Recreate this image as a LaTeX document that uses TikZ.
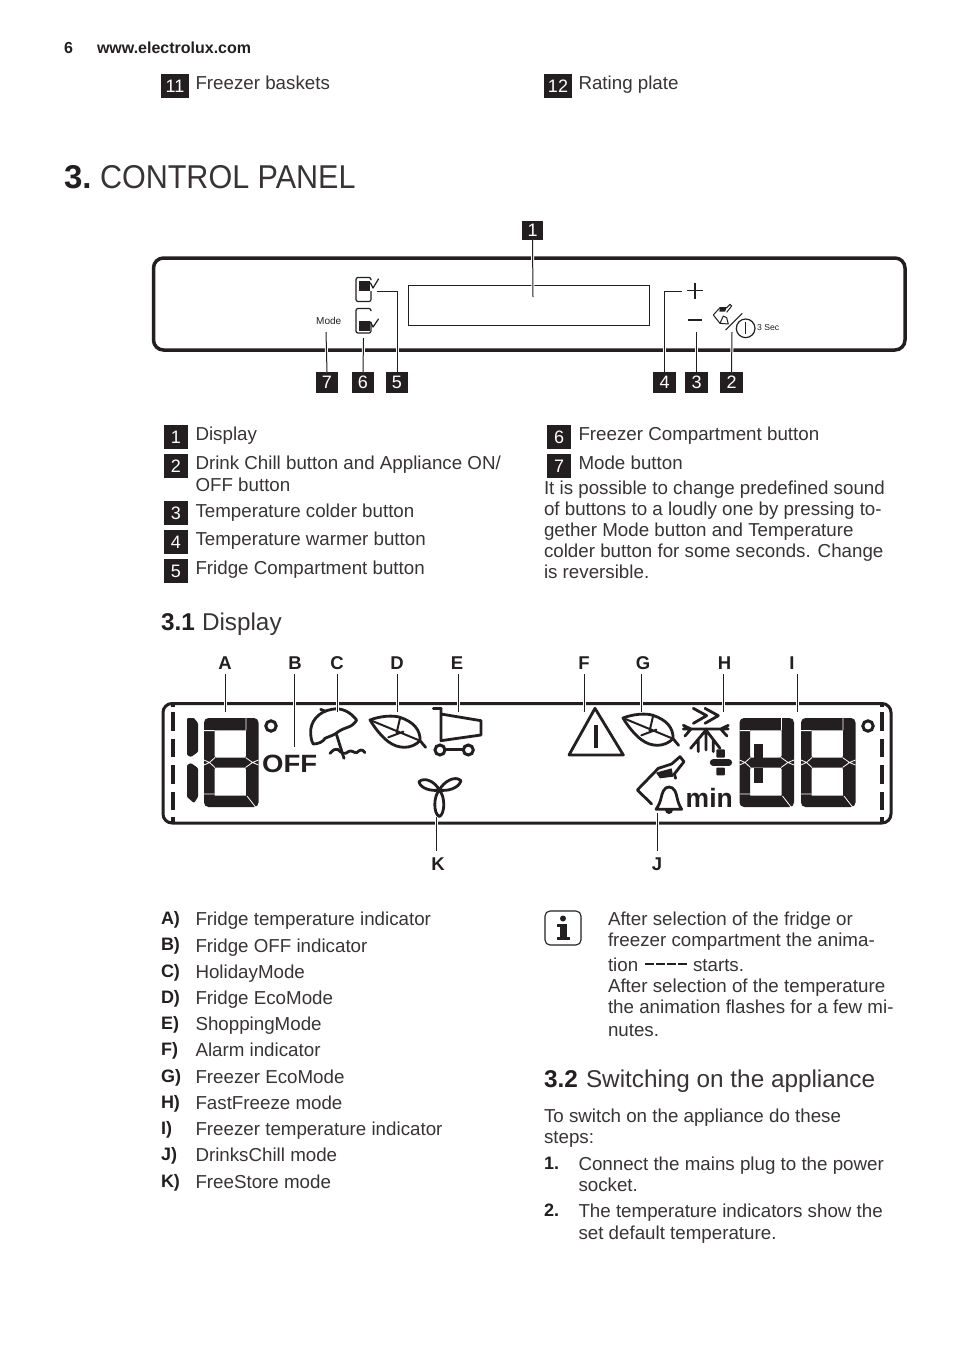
\documentclass[tikz,border=0pt]{standalone}
\usepackage{fontspec}
\setmainfont{Liberation Sans}
\definecolor{ink}{HTML}{231F20}
\definecolor{bodyink}{HTML}{383435}
\newcommand\bodysize{\fontsize{18.75}{21}\selectfont}
\tikzset{
  x=1pt,y=-1pt,
  txt/.style={anchor=base west,inner sep=0pt,outer sep=0pt,text=bodyink,font=\bodysize},
  boldtxt/.style={anchor=base west,inner sep=0pt,outer sep=0pt,text=ink,font=\fontsize{18}{21}\selectfont\bfseries},
  badge/.style={fill=ink,text=white,inner sep=0pt,outer sep=0pt,font=\fontsize{18}{18}\selectfont},
  letter/.style={anchor=base,inner sep=0pt,outer sep=0pt,text=ink,font=\fontsize{18.5}{18}\selectfont\bfseries},
  lead/.style={draw=ink,line width=1pt,preaction={draw=white,line width=3pt}},
  icon/.style={draw=ink,line width=2.8pt,line join=round,line cap=round},
  smallicon/.style={draw=ink,line width=1.2pt,line join=round,line cap=round},
  seam/.style={draw=white,line width=0.8pt}
}
\newcommand\tx[4]{\node[txt] (#1) at (#2,#3) {#4};}
\newcommand\tb[4]{\node[boldtxt] (#1) at (#2,#3) {#4};}
\newcommand\lcddigit[2]{%
\begin{scope}[shift={(#1,#2)}]
\fill[ink,even odd rule] [rounded corners=4.5pt] (0,0) rectangle (54.5,89) [sharp corners]
  (10.5,12.3)--(42,12.3)--(42,38)--(41,39.5)--(11.5,39.5)--(10.5,38)--cycle
  (10.5,51)--(11.5,49.5)--(41,49.5)--(42,51)--(42,77.5)--(10.5,77.5)--cycle;
\draw[seam] (0,12.6)--(10.5,12.6) (42,0)--(42,12.3) (11,39.5)--(5.5,44.5)--(11,49.5) (5.5,44.5)--(0,42) (5.5,44.5)--(0,47);
\draw[seam] (41.5,39.5)--(48.5,44.5)--(41.5,49.5) (48.5,44.5)--(54.5,42) (48.5,44.5)--(54.5,47);
\draw[seam] (0,76)--(10.5,76) (43,78)--(51.5,89);
\end{scope}}
\newcommand\leafat[2]{%
\begin{scope}[shift={(#1,#2)},scale=0.3333]
\draw[icon] (0,0) .. controls (30,-12) and (70,-15) .. (90,-8) .. controls (130,5) and (152,30) .. (150,62) .. controls (125,88) and (85,88) .. (55,65) .. controls (35,50) and (15,25) .. (0,0) -- cycle;
\draw[icon] (150,62)--(167,82);
\draw[draw=ink,line width=2pt,line cap=round] (0,0)--(145,60) (90,-5)--(80,38) (55,52)--(100,35);
\end{scope}}
\begin{document}
\begin{tikzpicture}
\useasboundingbox (0,0) rectangle (954,1352);
\fill[white] (0,0) rectangle (954,1352);
% header
\node[boldtxt,font=\fontsize{16}{16}\selectfont\bfseries] (pg) at (64,53) {6};
\node[boldtxt,font=\fontsize{16}{16}\selectfont\bfseries] (web) at (97,53) {www.electrolux.com};
\node[badge,minimum width=28pt,minimum height=24pt,anchor=north west] (b11) at (161,74) {11};
\tx{t11}{195.5}{89}{Freezer baskets}
\node[badge,minimum width=28pt,minimum height=24pt,anchor=north west] (b12) at (544,74) {12};
\tx{t12}{578.5}{89}{Rating plate}
\node[boldtxt,font=\fontsize{33}{36}\selectfont\bfseries] (h3) at (64,188) {3.};
\node[txt,font=\fontsize{33}{36}\selectfont] (h3t) at (100,188) {\scalebox{.925}[1]{CONTROL PANEL}};
% panel
\draw[draw=ink,line width=3.5pt,rounded corners=10pt] (153.5,258) rectangle (905,350);
\draw[draw=ink,line width=1pt] (408,285.5) rectangle (649.5,325);
\node[badge,minimum width=21pt,minimum height=19pt,anchor=north west] (p1) at (522,221) {1};
\node[badge,minimum width=22pt,minimum height=21pt,anchor=north west] (p7) at (316,372) {7};
\node[badge,minimum width=22pt,minimum height=21pt,anchor=north west] (p6) at (352,372) {6};
\node[badge,minimum width=22pt,minimum height=21pt,anchor=north west] (p5) at (386,372) {5};
\node[badge,minimum width=23pt,minimum height=21pt,anchor=north west] (p4) at (653,372) {4};
\node[badge,minimum width=23pt,minimum height=21pt,anchor=north west] (p3) at (685,372) {3};
\node[badge,minimum width=23pt,minimum height=21pt,anchor=north west] (p2) at (720,372) {2};
\coordinate (e1) at (533,297);
\coordinate (e7) at (326,332);
\coordinate (e6) at (363.5,338);
\coordinate (e5) at (377,291.5);
\coordinate (e4) at (682,291.5);
\coordinate (e3) at (696.5,332);
\coordinate (e2) at (732,332);
\draw[lead] (p1.south)--(e1);
\draw[lead] (p7.north)--(e7);
\draw[lead] (p6.north)--(e6);
\draw[lead] (p5.north)|-(e5);
\draw[lead] (p4.north)|-(e4);
\draw[lead] (p3.north)--(e3);
\draw[lead] (p2.north)--(e2);
% panel buttons
\draw[draw=ink,line width=1.2pt,rounded corners=2pt] (371,280)--(371,277.5)--(356,277.5)--(356,301.5)--(371,301.5)--(371,291);
\fill[ink] (358.5,280.5) rectangle (369.5,291);
\draw[smallicon] (370.5,283)--(373,288)--(378.5,279);
\draw[draw=ink,line width=1.2pt,rounded corners=2pt] (371,311)--(371,308.5)--(356,308.5)--(356,333)--(371,333)--(371,322);
\fill[ink] (358.5,320.5) rectangle (369.5,331);
\draw[smallicon] (370.5,322)--(373,327)--(378.5,319);
\node[anchor=base west,inner sep=0pt,text=ink,font=\fontsize{10}{10}\selectfont] (modelabel) at (316,324.5) {Mode};
\draw[draw=ink,line width=1.1pt] (687,290.5)--(703,290.5) (695,282.5)--(695,298.5);
\draw[draw=ink,line width=1.8pt] (688,320)--(702,320);
\begin{scope}[shift={(550,215)},scale=0.3333]
\draw[draw=ink,line width=1.2pt] (527,345)--(577,295);
\draw[draw=ink,line width=1.2pt] (587,340) circle (28);
\draw[draw=ink,line width=1.2pt] (587,320)--(587,358);
\draw[draw=ink,line width=1pt,line join=round] (510,325)--(490,300)--(510,278)--(530,278)--(540,268)--(545,273)--(530,292);
\fill[ink] (510,278)--(530,278)--(525,290)--(508,290)--cycle;
\draw[draw=ink,line width=1pt,line join=round] (510,325)--(520,303)--(530,308)--(535,327)--cycle;
\end{scope}
\node[anchor=base west,inner sep=0pt,text=ink,font=\fontsize{8.6}{9}\selectfont] (sec) at (757,330) {3 Sec};
% legend
\node[badge,minimum width=24pt,minimum height=24pt,anchor=north west] (l1) at (164,425) {1};
\tx{lt1}{195.5}{440}{Display}
\node[badge,minimum width=24pt,minimum height=24pt,anchor=north west] (l2) at (164,454) {2};
\tx{lt2}{195.5}{469}{Drink Chill button and Appliance ON/}
\tx{lt2b}{195.5}{491}{OFF button}
\node[badge,minimum width=24pt,minimum height=24pt,anchor=north west] (l3) at (164,501) {3};
\tx{lt3}{195.5}{517}{Temperature colder button}
\node[badge,minimum width=24pt,minimum height=24pt,anchor=north west] (l4) at (164,530) {4};
\tx{lt4}{195.5}{545}{Temperature warmer button}
\node[badge,minimum width=24pt,minimum height=24pt,anchor=north west] (l5) at (164,559) {5};
\tx{lt5}{195.5}{574}{Fridge Compartment button}
\node[badge,minimum width=24pt,minimum height=24pt,anchor=north west] (l6) at (547,425) {6};
\tx{lt6}{578.5}{440}{Freezer Compartment button}
\node[badge,minimum width=24pt,minimum height=24pt,anchor=north west] (l7) at (547,454) {7};
\tx{lt7}{578.5}{469}{Mode button}
\tx{pa}{544}{494}{It is possible to change predefined sound}
\tx{pb}{544}{515}{of buttons to a loudly one by pressing to-}
\tx{pc}{544}{536}{gether Mode button and Temperature}
\tx{pd}{544}{557}{colder button for some seconds. Change}
\tx{pe}{544}{578}{is reversible.}
% 3.1
\node[boldtxt,font=\fontsize{24.3}{27}\selectfont\bfseries] (s31) at (161,630) {3.1};
\node[txt,font=\fontsize{24.3}{27}\selectfont] (s31t) at (202,630) {Display};
% LCD frame
\draw[draw=ink,line width=3pt,rounded corners=9pt] (163,703.5) rectangle (891,823);
\draw[draw=ink,line width=4.5pt,dash pattern=on 18.5pt off 8pt] (173,712)--(173,823);
\draw[draw=ink,line width=4.5pt,dash pattern=on 18.5pt off 8pt] (882,712)--(882,823);
\fill[ink] (170.7,703)rectangle(175.3,707);
\fill[ink] (879.7,703)rectangle(884.3,707);
\fill[ink] (170.7,817)rectangle(175.3,823);
\fill[ink] (879.7,817)rectangle(884.3,823);
% digits
\fill[ink,rounded corners=1pt] (187,718)--(194,718)--(198,723)--(198,752)--(191,757)--(187,755)--cycle;
\fill[ink,rounded corners=1pt] (187,765)--(191,763)--(198,768)--(198,797)--(194,803)--(187,797)--cycle;
\lcddigit{204}{718}
\lcddigit{739.5}{718}
\lcddigit{801}{718}
\fill[ink] (753.5,743.5) rectangle (763,757.5);
\fill[ink] (753.5,768) rectangle (763,783);
\draw[draw=ink,line width=3pt] (271,726) circle (5.2);
\draw[draw=ink,line width=3pt] (868,726) circle (5.2);
\node[anchor=base west,inner sep=0pt,text=ink,font=\fontsize{25}{24}\selectfont\bfseries] (off) at (262,772) {\scalebox{1.1}[1]{OFF}};
\node[anchor=base west,inner sep=0pt,text=ink,font=\fontsize{26.5}{26}\selectfont\bfseries] (minlabel) at (685.5,807) {min};
% icons, left half
\begin{scope}[shift={(155,650)},scale=0.3333]
\draw[icon] (605,210) .. controls (585,185) and (560,172) .. (530,178) .. controls (490,185) and (465,215) .. (467,250) .. controls (468,265) and (470,275) .. (475,282) .. controls (490,282) and (505,275) .. (510,265) .. controls (525,258) and (540,255) .. (550,245) .. controls (560,238) and (570,235) .. (578,232) .. controls (590,228) and (600,220) .. (605,210);
\draw[icon] (497,178)--(512,184);
\draw[icon] (545,255)--(567,325);
\draw[icon] (525,310) .. controls (535,300) and (540,295) .. (548,298) .. controls (560,310) and (570,315) .. (580,305) .. controls (590,298) and (598,310) .. (605,308) .. controls (615,300) and (620,295) .. (630,308);
\draw[icon] (858,175)--(835,175);
\draw[icon] (858,175)--(858,272)--(978,255)--(978,212)--(858,192);
\draw[icon] (872,298)--(925,298);
\draw[draw=ink,line width=3pt] (855,300) circle (15);
\draw[draw=ink,line width=3pt] (940,300) circle (15);
\draw[icon] (853,420) .. controls (835,440) and (835,490) .. (853,500) .. controls (871,490) and (871,440) .. (853,420);
\draw[icon] (853,420) .. controls (840,395) and (810,380) .. (792,395) .. controls (795,415) and (830,425) .. (853,420);
\draw[icon] (853,420) .. controls (866,395) and (900,375) .. (918,392) .. controls (912,415) and (876,425) .. (853,420);
\end{scope}
\leafat{370}{720}
% icons, right half
\begin{scope}[shift={(545,650)},scale=0.3333]
\draw[icon] (150,175)--(235,315)--(72,315)--cycle;
\draw[draw=ink,line width=3.5pt] (153,225)--(153,295);
\draw[icon] (445,175)--(485,197)--(445,220);
\draw[icon] (480,175)--(520,197)--(480,220);
\draw[icon] (415,237)--(550,237) (415,226)--(438,237)--(420,258) (550,226)--(527,237)--(546,258);
\draw[icon] (483,237)--(483,300) (483,240)--(437,295) (483,240)--(525,295) (460,268)--(460,305) (505,268)--(505,305);
\draw[draw=ink,line width=7pt,line cap=round] (505,338)--(551,338);
\fill[ink,rounded corners=1pt] (514,298) rectangle (540,323);
\fill[ink,rounded corners=1pt] (514,353) rectangle (540,376);
\draw[icon] (320,462)--(277,420)--(340,355)--(380,342)--(405,320)--(417,335)--(388,372)--(392,385);
\fill[ink] (333,368)--(380,355)--(385,380)--(345,385)--cycle;
\draw[icon] (333,478)--(410,478) (333,478) .. controls (350,455) and (348,435) .. (355,423) .. controls (362,407) and (382,407) .. (390,423) .. controls (397,435) and (395,455) .. (410,478);
\fill[ink] (360,480) arc (180:0:12) -- cycle;
\end{scope}
\leafat{623}{718}
% letters
\node[letter] (A) at (225,669) {A};
\node[letter] (B) at (295,669) {B};
\node[letter] (C) at (337,669) {C};
\node[letter] (D) at (397,669) {D};
\node[letter] (E) at (457,669) {E};
\node[letter] (F) at (584,669) {F};
\node[letter] (G) at (643,669) {G};
\node[letter] (H) at (724.5,669) {H};
\node[letter] (I) at (792,669) {I};
\node[letter] (K) at (438,870) {K};
\node[letter] (J) at (657,870) {J};
\coordinate (ea) at (225,712);\coordinate (sa) at (225,674);
\coordinate (eb) at (294.5,747);\coordinate (sb) at (294.5,674);
\coordinate (ec) at (337,712);\coordinate (sc) at (337,674);
\coordinate (ed) at (397,712);\coordinate (sd) at (397,674);
\coordinate (ee) at (458,712);\coordinate (se) at (458,674);
\coordinate (ef) at (584,712);\coordinate (sf) at (584,674);
\coordinate (eg) at (641.5,712);\coordinate (sg) at (641.5,674);
\coordinate (eh) at (723,712);\coordinate (sh) at (723,674);
\coordinate (ei) at (797,712);\coordinate (si) at (797,674);
\coordinate (ek) at (436,817);\coordinate (sk) at (436,851);
\coordinate (ej) at (657.5,813);\coordinate (sj) at (657.5,851);
\foreach \a/\b in {sa/ea,sb/eb,sc/ec,sd/ed,se/ee,sf/ef,sg/eg,sh/eh,si/ei,sk/ek,sj/ej}{\draw[lead] (\a)--(\b);}
% A-K list
\tb{la}{161}{924}{A)}\tx{ta}{195.5}{925}{Fridge temperature indicator}
\tb{lb}{161}{950}{B)}\tx{tb}{195.5}{952}{Fridge OFF indicator}
\tb{lc}{161}{977}{C)}\tx{tc}{195.5}{978}{HolidayMode}
\tb{ld}{161}{1003}{D)}\tx{td}{195.5}{1004}{Fridge EcoMode}
\tb{le}{161}{1029}{E)}\tx{te}{195.5}{1030}{ShoppingMode}
\tb{lf}{161}{1055}{F)}\tx{tf}{195.5}{1056}{Alarm indicator}
\tb{lg}{161}{1082}{G)}\tx{tg}{195.5}{1083}{Freezer EcoMode}
\tb{lh}{161}{1108}{H)}\tx{th}{195.5}{1109}{FastFreeze mode}
\tb{li}{161}{1134}{I)}\tx{ti}{195.5}{1135}{Freezer temperature indicator}
\tb{lj}{161}{1160}{J)}\tx{tj}{195.5}{1161}{DrinksChill mode}
\tb{lk}{161}{1187}{K)}\tx{tk}{195.5}{1188}{FreeStore mode}
% info
\draw[draw=ink,line width=1.1pt,rounded corners=5pt] (545,911) rectangle (581,945);
\fill[ink] (563,918.5) circle (3);
\fill[ink] (557,924) rectangle (567,926.5);
\fill[ink] (560,924) rectangle (567,937);
\fill[ink] (557,936.5) rectangle (570,939.5);
\tx{ia}{608}{925}{After selection of the fridge or}
\tx{ib}{608}{946}{freezer compartment the anima-}
\tx{ic}{608}{971}{tion}
\draw[draw=ink,line width=2.4pt,dash pattern=on 9pt off 2pt] (645,964)--(688,964);
\tx{icb}{693}{971}{starts.}
\tx{id}{608}{992}{After selection of the temperature}
\tx{ie}{608}{1013}{the animation flashes for a few mi-}
\tx{if}{608}{1036}{nutes.}
% 3.2
\node[boldtxt,font=\fontsize{24.3}{27}\selectfont\bfseries] (s32) at (544,1087) {3.2};
\node[txt,font=\fontsize{24.3}{27}\selectfont] (s32t) at (586,1087) {Switching on the appliance};
\tx{sa1}{544}{1122}{To switch on the appliance do these}
\tx{sa2}{544}{1143}{steps:}
\tb{n1}{544}{1169}{1.}
\tx{s1a}{578.5}{1170}{Connect the mains plug to the power}
\tx{s1b}{578.5}{1191}{socket.}
\tb{n2}{544}{1216}{2.}
\tx{s2a}{578.5}{1217}{The temperature indicators show the}
\tx{s2b}{578.5}{1239}{set default temperature.}
\end{tikzpicture}
\end{document}
